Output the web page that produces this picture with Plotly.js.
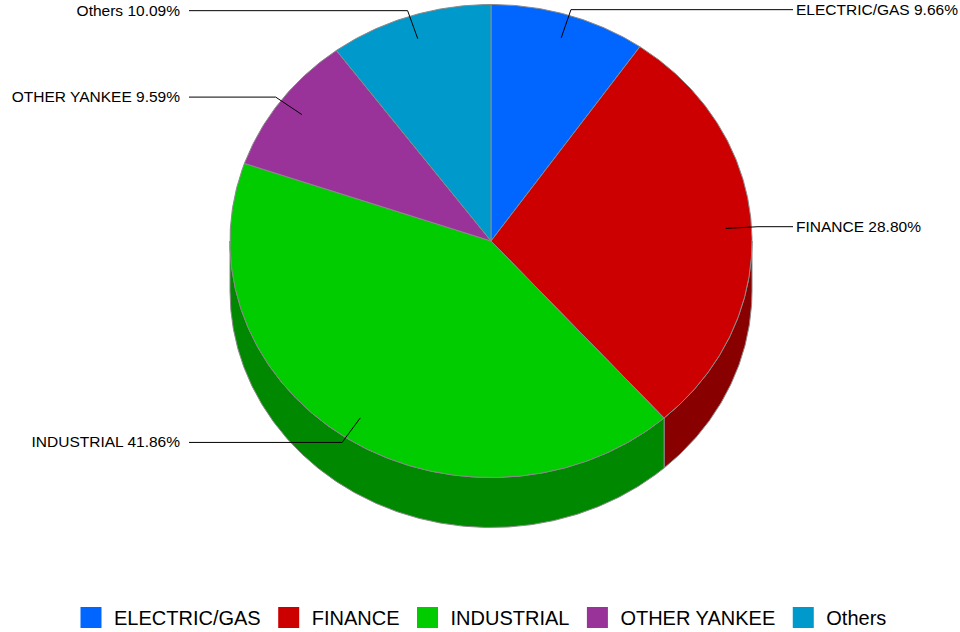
<!DOCTYPE html>
<html>
<head>
<meta charset="utf-8">
<script src="https://cdn.plot.ly/plotly-3.0.1.min.js"></script>
<style>html,body{margin:0;padding:0;background:#fff;}#chart{width:960px;height:632px;}</style>
</head>
<body>
<div id="chart"></div>
<script>
// ---- data ----
const categories = ['ELECTRIC/GAS', 'FINANCE', 'INDUSTRIAL', 'OTHER YANKEE', 'Others'];
const values = [9.66, 28.80, 41.86, 9.59, 10.09];
const topColors = ['#0066FF', '#CC0000', '#00CC00', '#993399', '#0099CC'];
const sideColors = ['#0044AA', '#880000', '#008800', '#662266', '#006688'];

// ---- geometry (layout, in pixel units of the hidden axes) ----
const W = 960, H = 632;
const cx = 491, cy = 241, rx = 261, ry = 236.5, depth = 50;
const labelReach = 302, outline = '#8a8a8a';
const FONT = 'Arial, "Liberation Sans", sans-serif';

const total = values.reduce((a, b) => a + b, 0);
function pt(theta, k, dy) { return [cx + k * rx * Math.sin(theta), cy - k * ry * Math.cos(theta) + (dy || 0)]; }
function arc(a, b, k, dy) {
  const n = Math.max(2, Math.ceil(Math.abs(b - a) / (Math.PI / 360)));
  const out = [];
  for (let i = 0; i <= n; i++) out.push(pt(a + (b - a) * i / n, k, dy));
  return out;
}

const sideTraces = [], topTraces = [], leaderTraces = [], labelTraces = [];
let acc = 0;
values.forEach((v, i) => {
  const a = acc / total * 2 * Math.PI;
  acc += v;
  const b = acc / total * 2 * Math.PI;
  // side wall on the front half (theta in [pi/2, 3pi/2])
  const lo = Math.max(a, Math.PI / 2), hi = Math.min(b, 3 * Math.PI / 2);
  if (lo < hi) {
    const topRim = arc(lo, hi, 1, 0);
    const botRim = arc(hi, lo, 1, depth);
    const poly = topRim.concat(botRim);
    poly.push(topRim[0]);
    sideTraces.push({
      type: 'scatter', mode: 'lines', x: poly.map(p => p[0]), y: poly.map(p => p[1]),
      fill: 'toself', fillcolor: sideColors[i], line: {color: outline, width: 1},
      hoverinfo: 'skip', showlegend: false
    });
  }
  // top face
  const face = [[cx, cy]].concat(arc(a, b, 1, 0));
  face.push([cx, cy]);
  topTraces.push({
    type: 'scatter', mode: 'lines', x: face.map(p => p[0]), y: face.map(p => p[1]),
    fill: 'toself', fillcolor: topColors[i], line: {color: outline, width: 1},
    hoverinfo: 'skip', showlegend: false
  });
  // leader line + label
  const mid = (a + b) / 2;
  const side = Math.sin(mid) >= 0 ? 1 : -1;
  const p1 = pt(mid, 0.9), p2 = pt(mid, 1.025);
  const p3 = [cx + side * labelReach, p2[1]];
  leaderTraces.push({
    type: 'scatter', mode: 'lines', x: [p1[0], p2[0], p3[0]], y: [p1[1], p2[1], p3[1]],
    line: {color: '#000', width: 1}, hoverinfo: 'skip', showlegend: false
  });
  labelTraces.push({
    type: 'scatter', mode: 'text', x: [p3[0] + side * (side > 0 ? 3 : 9)], y: [p3[1] + 1],
    text: [categories[i] + ' ' + v.toFixed(2) + '%'],
    textposition: side > 0 ? 'middle right' : 'middle left',
    textfont: {family: FONT, size: 15.5, color: '#000'},
    hoverinfo: 'skip', showlegend: false
  });
});

const legendTraces = categories.map((c, i) => ({
  type: 'scatter', mode: 'markers', x: [null], y: [null], name: c,
  marker: {symbol: 'square', size: 16, color: topColors[i], line: {color: topColors[i], width: 5}},
  hoverinfo: 'skip'
}));

const data = [].concat(sideTraces, topTraces, leaderTraces, labelTraces, legendTraces);

const layout = {
  width: W, height: H,
  margin: {l: 0, r: 0, t: 0, b: 0, autoexpand: false},
  paper_bgcolor: '#ffffff', plot_bgcolor: '#ffffff',
  xaxis: {range: [0, W], visible: false, fixedrange: true},
  yaxis: {range: [H, 0], visible: false, fixedrange: true},
  showlegend: true,
  legend: {
    orientation: 'h', x: 0.5, xanchor: 'center', y: 1 - 617.5 / H, yanchor: 'middle',
    font: {family: FONT, size: 20, color: '#000'}, bgcolor: 'rgba(0,0,0,0)',
    itemwidth: 36, itemclick: false, itemdoubleclick: false, tracegroupgap: 0
  },
  hovermode: false
};

Plotly.newPlot('chart', data, layout, {displayModeBar: false, staticPlot: true});
</script>
</body>
</html>
